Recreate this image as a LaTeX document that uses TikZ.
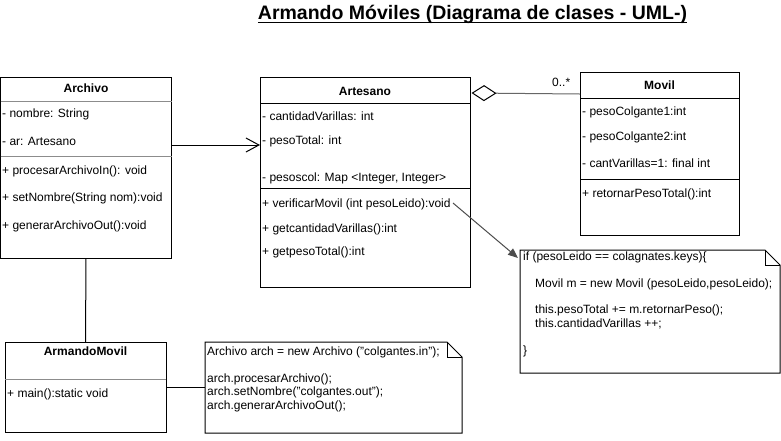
\documentclass[tikz,border=0pt]{standalone}
\usepackage{fontspec}
\setmainfont{Liberation Sans}
\usetikzlibrary{arrows.meta}
\begin{document}
\begin{tikzpicture}[x=1pt,y=-1pt,
  box/.style={draw, line width=1pt, inner sep=0pt, outer sep=0pt, anchor=north west},
  plain/.style={inner sep=0pt, outer sep=0pt, anchor=north west},
  txt/.style={anchor=base west, inner sep=0pt, font=\fontsize{12}{14}\selectfont},
  ttl/.style={anchor=base, inner sep=0pt, font=\fontsize{12}{14}\selectfont\bfseries},
  div/.style={line width=1pt},
  gdiv/.style={line width=1pt, draw=black!45},
  conn/.style={line width=1pt},
]
\useasboundingbox (0,0) rectangle (781,440);

% title
\node[anchor=base, inner sep=0pt, font=\fontsize{19.5}{22}\selectfont\bfseries] (title) at (472.5,19.5) {Armando Móviles (Diagrama de clases - UML-)};
\draw[line width=1.5pt] ([yshift=-2.8pt]title.base west) -- ([yshift=-2.8pt]title.base east);

% Archivo
\node[box, minimum width=171pt, minimum height=180.5pt] (archivo) at (0.5,77.5) {};
\draw[gdiv] ([yshift=-24pt]archivo.north west) -- ([yshift=-24pt]archivo.north east);
\draw[gdiv] ([yshift=-78.5pt]archivo.north west) -- ([yshift=-78.5pt]archivo.north east);
\node[ttl] (archivoT) at (86,92.3) {Archivo};
\node[txt] (ar1) at (2,117.3) {- nombre: String};
\node[txt] (ar2) at (2,145.7) {- ar: Artesano};
\node[txt] (ar3) at (2,174) {+ procesarArchivoIn(): void};
\node[txt] (ar4) at (2,201.3) {+ setNombre(String nom):void};
\node[txt] (ar5) at (2,229) {+ generarArchivoOut():void};

% Artesano
\node[box, minimum width=210pt, minimum height=210pt] (artesano) at (260,77) {};
\draw[div] ([yshift=-26pt]artesano.north west) -- ([yshift=-26pt]artesano.north east);
\draw[div] ([yshift=-111pt]artesano.north west) -- ([yshift=-111pt]artesano.north east);
\node[ttl] (artesanoT) at (365,95.7) {Artesano};
\node[txt] (at1) at (262,120.7) {- cantidadVarillas: int};
\node[txt] (at2) at (262,144.7) {- pesoTotal: int};
\node[txt] (at3) at (262,181.3) {- pesoscol: Map <Integer, Integer>};
\node[txt] (at4) at (262,207.3) {+ verificarMovil (int pesoLeido):void};
\node[txt] (at5) at (262,232.3) {+ getcantidadVarillas():int};
\node[txt] (at6) at (262,255.7) {+ getpesoTotal():int};

% Movil
\node[box, minimum width=159pt, minimum height=163pt] (movil) at (580,72) {};
\draw[div] ([yshift=-26pt]movil.north west) -- ([yshift=-26pt]movil.north east);
\draw[div] ([yshift=-107pt]movil.north west) -- ([yshift=-107pt]movil.north east);
\node[ttl] (movilT) at (659.5,89) {Movil};
\node[txt] (mv1) at (582,115) {- pesoColgante1:int};
\node[txt] (mv2) at (582,140.7) {- pesoColgante2:int};
\node[txt] (mv3) at (582,167.3) {- cantVarillas=1: final int};
\node[txt] (mv4) at (582,197.3) {+ retornarPesoTotal():int};

% ArmandoMovil
\node[box, minimum width=161pt, minimum height=90pt] (armando) at (5,342) {};
\draw[gdiv] ([yshift=-37pt]armando.north west) -- ([yshift=-37pt]armando.north east);
\node[ttl] (armandoT) at (85.5,355.7) {ArmandoMovil};
\node[txt] (am1) at (7,397.3) {+ main():static void};

% Note 1
\node[plain, minimum width=260pt, minimum height=123pt] (note1) at (520,250) {};
\draw[line width=1pt] (note1.north west) -- ([xshift=-15pt]note1.north east) -- ([yshift=-15pt]note1.north east) -- (note1.south east) -- (note1.south west) -- cycle;
\draw[line width=1pt] ([xshift=-15pt]note1.north east) -- ([xshift=-15pt,yshift=-15pt]note1.north east) -- ([yshift=-15pt]note1.north east);
\node[txt] (n11) at (523,260.7) {if (pesoLeido == colagnates.keys)\{};
\node[txt] (n12) at (535,287) {Movil m = new Movil (pesoLeido,pesoLeido);};
\node[txt] (n13) at (535,313) {this.pesoTotal += m.retornarPeso();};
\node[txt] (n14) at (535,327) {this.cantidadVarillas ++;};
\node[txt] (n15) at (523,354) {\}};

% Note 2
\node[plain, minimum width=257pt, minimum height=91pt] (note2) at (205,342) {};
\draw[line width=1pt] (note2.north west) -- ([xshift=-15pt]note2.north east) -- ([yshift=-15pt]note2.north east) -- (note2.south east) -- (note2.south west) -- cycle;
\draw[line width=1pt] ([xshift=-15pt]note2.north east) -- ([xshift=-15pt,yshift=-15pt]note2.north east) -- ([yshift=-15pt]note2.north east);
\node[txt] (n21) at (207,355) {Archivo arch = new Archivo ("colgantes.in");};
\node[txt] (n22) at (207,382) {arch.procesarArchivo();};
\node[txt] (n23) at (207,395) {arch.setNombre("colgantes.out");};
\node[txt] (n24) at (207,409) {arch.generarArchivoOut();};

% connectors
\draw[conn, -{Straight Barb[length=13pt,width=14pt]}] ([yshift=-67.5pt]archivo.north east) -- ([yshift=-68pt]artesano.north west);
\draw[conn, draw=black!60, {Diamond[open,length=25pt,width=16pt,color=black]}-] ([xshift=1.5pt,yshift=-16pt]artesano.north east) -- ([yshift=-22pt]movil.north west);
\node[txt] (mult) at (552,86) {0..*};
\draw[conn, draw=black!70, -{Triangle[length=10pt,width=8pt]}] ([xshift=-17pt,yshift=-126pt]artesano.north east) -- ([xshift=-2pt,yshift=-8pt]note1.north west);
\draw[conn] (archivo.south) -- (armando.north);
\draw[conn] (armando.east) -- (armando.east -| note2.west);
\end{tikzpicture}
\end{document}
